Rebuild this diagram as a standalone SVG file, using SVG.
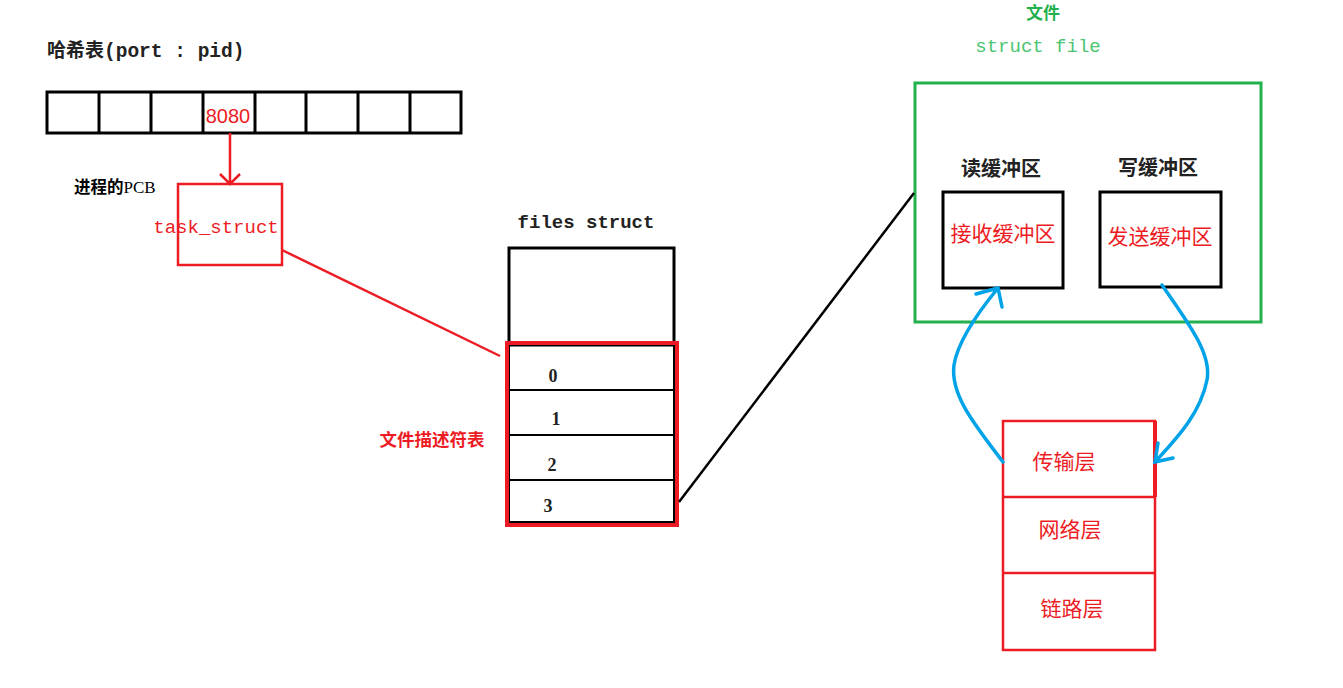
<svg xmlns="http://www.w3.org/2000/svg" width="1343" height="688" viewBox="0 0 1343 688">
<defs>
<style>
.blk{fill:none;stroke:#000;stroke-width:3}
.red{fill:none;stroke:#ed1c24;stroke-width:2.5}
.blue{fill:none;stroke:#00a2e8;stroke-width:3.5;stroke-linecap:round}
.serif{font-family:"Liberation Serif","Noto Sans CJK SC",serif}
.mono{font-family:"Liberation Mono","Noto Sans CJK SC",monospace}
.sans{font-family:"Noto Sans CJK SC","Liberation Sans",sans-serif;font-weight:bold}
</style>
</defs>
<rect width="1343" height="688" fill="#fff"/>
<g id="hash-table">
<text x="47" y="57" class="serif" font-size="19" font-weight="bold" fill="#222">哈希表<tspan class="mono" font-size="19.5">(port : pid)</tspan></text>
<rect x="47" y="92" width="414" height="41" class="blk"/>
<path d="M99 92V133M151 92V133M203 92V133M255 92V133M306 92V133M358 92V133M410 92V133" class="blk"/>
<text x="228" y="123" font-family="Liberation Sans, sans-serif" font-size="20" fill="#ed1c24" text-anchor="middle">8080</text>
</g>
<g id="task-struct">
<text x="74" y="193" class="sans" font-size="16.5" fill="#000">进程的<tspan font-family="Liberation Serif, serif" font-weight="normal" font-size="17">PCB</tspan></text>
<rect x="178" y="184" width="104" height="81" class="red"/>
<text x="216" y="233" class="mono" font-size="19" fill="#ed1c24" text-anchor="middle">task_struct</text>
</g>
<g id="files-struct">
<text x="586" y="228" class="mono" font-size="19" font-weight="bold" fill="#222" text-anchor="middle">files struct</text>
<rect x="509" y="248" width="165" height="97" class="blk"/>
<rect x="509" y="345" width="165" height="177" fill="none" stroke="#000" stroke-width="2"/>
<path d="M509 390H674M509 435H674M509 480H674" fill="none" stroke="#000" stroke-width="2"/>
<rect x="507" y="343" width="170" height="182" fill="none" stroke="#ed1c24" stroke-width="4"/>
<g class="serif" font-size="18" font-weight="bold" fill="#222" text-anchor="middle">
<text x="553" y="382">0</text>
<text x="556" y="425">1</text>
<text x="552" y="471">2</text>
<text x="548" y="512">3</text>
</g>
<text x="432" y="446" class="sans" font-size="17.5" fill="#ed1c24" text-anchor="middle">文件描述符表</text>
</g>
<g id="struct-file">
<text x="1043" y="19" class="sans" font-size="17" fill="#22b14c" text-anchor="middle">文件</text>
<text x="1038" y="52" class="mono" font-size="19" fill="#4cc472" text-anchor="middle">struct file</text>
<rect x="915" y="83" width="346" height="239" fill="none" stroke="#22b14c" stroke-width="3"/>
<text x="1001" y="176" class="serif" font-size="20" font-weight="bold" fill="#222" text-anchor="middle">读缓冲区</text>
<text x="1158" y="175" class="serif" font-size="20" font-weight="bold" fill="#222" text-anchor="middle">写缓冲区</text>
<rect x="943" y="192" width="120" height="96" class="blk"/>
<rect x="1100" y="192" width="121" height="95" class="blk"/>
<text x="1003" y="241" class="serif" font-size="21" fill="#ed1c24" text-anchor="middle">接收缓冲区</text>
<text x="1160" y="244" class="serif" font-size="21" fill="#ed1c24" text-anchor="middle">发送缓冲区</text>
</g>
<g id="net-stack">
<rect x="1003" y="421" width="152" height="229" fill="none" stroke="#ed1c24" stroke-width="2.5"/>
<path d="M1003 497H1155M1003 573H1155" class="red"/>
<path d="M1155 421V497" stroke="#ed1c24" stroke-width="4"/>
<g class="serif" font-size="21" fill="#ed1c24" text-anchor="middle">
<text x="1064" y="469">传输层</text>
<text x="1070" y="537">网络层</text>
<text x="1072" y="616">链路层</text>
</g>
</g>
<g id="connectors">
<path d="M230 133V184M220 174L230 184L240 174" class="red"/>
<path d="M282 250L500 356" class="red"/>
<path d="M679 502L914 193" fill="none" stroke="#000" stroke-width="2.5"/>
<path d="M1003 462C975 425 950 395 954 365C958 340 980 310 998 288M976 294L998 288L1002 307" class="blue"/>
<path d="M1162 285C1190 325 1212 355 1207 380C1200 415 1175 440 1155 462M1158 443L1155 462L1173 458" class="blue"/>
</g>
</svg>
